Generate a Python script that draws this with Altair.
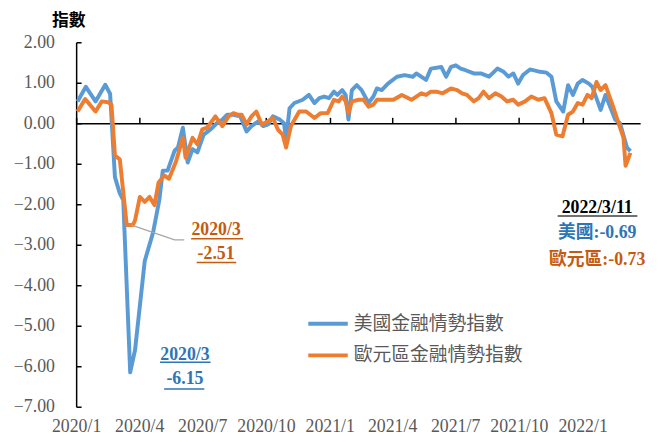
import altair as alt
import pandas as pd

# ---------------- data ----------------
us_name = "美國金融情勢指數"
eu_name = "歐元區金融情勢指數"

us_dates = [
    "2020-01-03", "2020-01-15", "2020-01-29", "2020-02-12", "2020-02-19", "2020-02-26",
    "2020-03-04", "2020-03-09", "2020-03-19", "2020-03-26", "2020-04-09", "2020-04-21",
    "2020-04-30", "2020-05-05", "2020-05-12", "2020-05-22", "2020-05-27", "2020-06-03",
    "2020-06-10", "2020-06-17", "2020-06-24", "2020-07-03", "2020-07-13", "2020-07-22",
    "2020-07-30", "2020-08-06", "2020-08-15", "2020-08-25", "2020-09-03", "2020-09-10",
    "2020-09-20", "2020-09-27", "2020-10-04", "2020-10-11", "2020-10-21", "2020-10-27",
    "2020-10-30", "2020-11-04", "2020-11-11", "2020-11-23", "2020-12-02", "2020-12-10",
    "2020-12-17", "2020-12-24", "2020-12-31", "2021-01-07", "2021-01-12", "2021-01-19",
    "2021-01-24", "2021-01-28", "2021-02-02", "2021-02-09", "2021-02-16", "2021-02-26",
    "2021-03-05", "2021-03-10", "2021-03-17", "2021-03-26", "2021-04-08", "2021-04-19",
    "2021-05-01", "2021-05-06", "2021-05-13", "2021-05-20", "2021-05-27", "2021-06-11",
    "2021-06-18", "2021-06-25", "2021-07-02", "2021-07-09", "2021-07-16", "2021-07-28",
    "2021-08-07", "2021-08-19", "2021-08-31", "2021-09-09", "2021-09-16", "2021-09-23",
    "2021-09-30", "2021-10-07", "2021-10-17", "2021-10-29", "2021-11-10", "2021-11-17",
    "2021-11-24", "2021-12-04", "2021-12-11", "2021-12-18", "2021-12-25", "2022-01-01",
    "2022-01-10", "2022-01-15", "2022-01-27", "2022-02-03", "2022-02-17", "2022-02-24",
    "2022-03-06", "2022-03-11",
]
us_values = [
    0.54, 0.90, 0.54, 0.95, 0.73, -1.33,
    -1.73, -1.90, -6.15, -5.60, -3.40, -2.70,
    -1.90, -1.17, -1.17, -0.68, -0.60, -0.11,
    -0.97, -0.64, -0.72, -0.28, -0.15, 0.00,
    0.09, 0.21, 0.21, 0.17, -0.20, -0.07,
    0.05, -0.07, -0.03, 0.17, 0.09, 0.00,
    -0.40, 0.37, 0.50, 0.58, 0.70, 0.50,
    0.62, 0.66, 0.62, 0.78, 0.70, 0.82,
    0.70, 0.09, 0.82, 0.94, 0.82, 0.50,
    0.66, 0.86, 0.82, 0.98, 1.15, 1.19,
    1.15, 1.23, 1.15, 1.07, 1.35, 1.39,
    1.15, 1.39, 1.43, 1.35, 1.31, 1.23,
    1.23, 1.15, 1.35, 1.27, 1.15, 1.23,
    0.98, 1.19, 1.33, 1.28, 1.25, 1.15,
    0.54, 0.29, 0.94, 0.70, 0.98, 1.07,
    0.98, 0.90, 0.33, 0.70, 0.09, 0.00,
    -0.60, -0.69,
]

eu_dates = [
    "2020-01-03", "2020-01-14", "2020-01-29", "2020-02-07", "2020-02-16", "2020-02-21",
    "2020-02-26", "2020-03-04", "2020-03-14", "2020-03-23", "2020-03-26", "2020-04-02",
    "2020-04-09", "2020-04-16", "2020-04-23", "2020-04-29", "2020-05-07", "2020-05-14",
    "2020-05-24", "2020-06-03", "2020-06-07", "2020-06-17", "2020-06-24", "2020-07-01",
    "2020-07-08", "2020-07-20", "2020-07-30", "2020-08-08", "2020-08-15", "2020-08-22",
    "2020-08-27", "2020-09-03", "2020-09-10", "2020-09-17", "2020-09-25", "2020-10-04",
    "2020-10-11", "2020-10-18", "2020-10-25", "2020-10-30", "2020-11-06", "2020-11-18",
    "2020-11-28", "2020-12-10", "2020-12-19", "2020-12-29", "2021-01-07", "2021-01-14",
    "2021-01-19", "2021-01-24", "2021-01-28", "2021-02-02", "2021-02-12", "2021-02-19",
    "2021-02-26", "2021-03-05", "2021-03-10", "2021-03-22", "2021-04-03", "2021-04-15",
    "2021-04-29", "2021-05-13", "2021-05-20", "2021-05-27", "2021-06-04", "2021-06-13",
    "2021-06-25", "2021-07-04", "2021-07-11", "2021-07-18", "2021-07-28", "2021-08-04",
    "2021-08-11", "2021-08-19", "2021-08-28", "2021-09-06", "2021-09-14", "2021-09-23",
    "2021-09-30", "2021-10-10", "2021-10-19", "2021-10-29", "2021-11-07", "2021-11-17",
    "2021-11-24", "2021-12-03", "2021-12-11", "2021-12-18", "2021-12-25", "2022-01-01",
    "2022-01-08", "2022-01-14", "2022-01-21", "2022-01-27", "2022-02-03", "2022-02-13",
    "2022-02-22", "2022-03-01", "2022-03-04", "2022-03-11",
]
eu_values = [
    0.29, 0.60, 0.29, 0.54, 0.52, 0.46,
    -0.80, -0.89, -2.51, -2.51, -2.40, -1.82,
    -1.94, -1.82, -2.02, -1.46, -1.29, -1.37,
    -0.95, -0.36, -0.85, -0.36, -0.52, -0.15,
    -0.11, 0.17, -0.07, 0.17, 0.25, 0.21,
    0.21, -0.03, 0.17, 0.29, -0.03, 0.05,
    0.13, -0.15, -0.28, -0.60, -0.07, 0.29,
    0.29, 0.13, 0.25, 0.25, 0.58, 0.54,
    0.66, 0.54, 0.25, 0.54, 0.58, 0.58,
    0.41, 0.46, 0.58, 0.58, 0.58, 0.70,
    0.58, 0.74, 0.70, 0.78, 0.78, 0.74,
    0.86, 0.82, 0.74, 0.70, 0.54, 0.62,
    0.78, 0.62, 0.74, 0.66, 0.54, 0.58,
    0.46, 0.54, 0.66, 0.58, 0.62, 0.25,
    -0.28, -0.32, 0.21, 0.29, 0.50, 0.46,
    0.70, 0.62, 1.02, 0.82, 0.94, 0.46,
    0.00, -0.36, -1.05, -0.73,
]

tick_labels = ["2020/1", "2020/4", "2020/7", "2020/10", "2021/1",
               "2021/4", "2021/7", "2021/10", "2022/1"]
y_ticks = [-7, -6, -5, -4, -3, -2, -1, 0, 1, 2]

# annotations (text, date, value, colour)
ann_text = ["2020/3", "-2.51", "2020/3", "-6.15", "2022/3/11", "美國:-0.69", "歐元區:-0.73"]
ann_date = ["2020-07-21", "2020-07-21", "2020-06-06", "2020-06-06",
            "2022-01-22", "2022-01-22", "2022-01-22"]
ann_value = [-2.63, -3.22, -5.73, -6.32, -2.10, -2.71, -3.37]
ann_color = ["#C55A11", "#C55A11", "#2E75B6", "#2E75B6", "#000000", "#2E75B6", "#C55A11"]

# underlines (start date, end date, value, colour)
ul_start = ["2020-06-15", "2020-06-23", "2020-05-01", "2020-05-07", "2021-11-26"]
ul_end = ["2020-08-29", "2020-08-19", "2020-07-13", "2020-07-04", "2022-03-21"]
ul_value = [-2.85, -3.44, -5.90, -6.56, -2.29]
ul_color = ["#C55A11", "#C55A11", "#2E75B6", "#2E75B6", "#404040"]

# leader line from the EU trough to its label
leader_dates = ["2020-03-20", "2020-05-22", "2020-06-05"]
leader_values = [-2.51, -2.88, -2.88]

# ---------------- tables ----------------
lines_df = pd.concat([
    pd.DataFrame({"date": us_dates, "value": us_values, "series": us_name}),
    pd.DataFrame({"date": eu_dates, "value": eu_values, "series": eu_name}),
])
ann_df = pd.DataFrame({"date": ann_date, "value": ann_value, "label": ann_text, "col": ann_color})
ul_df = pd.DataFrame({"start": ul_start, "end": ul_end, "value": ul_value, "col": ul_color})
leader_df = pd.DataFrame({"date": leader_dates, "value": leader_values})

# ---------------- scales / axes ----------------
def dt(s):
    y, m = s.split("/")
    return alt.DateTime(year=int(y), month=int(m), date=1, utc=True)

tick_values = [dt(t) for t in tick_labels]
xscale = alt.Scale(type="utc", domain=[alt.DateTime(year=2020, month=1, date=1, utc=True),
                                       alt.DateTime(year=2022, month=3, date=25, utc=True)])
yscale = alt.Scale(domain=[-7, 2], nice=False, zero=False)

SERIF = "Liberation Serif, Times New Roman, Noto Sans CJK TC"
CJK = "Noto Sans CJK TC"
GRAY = "#595959"

label_expr = "utcFormat(datum.value, '%Y') + '/' + (utcmonth(datum.value) + 1)"

x_main = alt.X("date:T", scale=xscale, title=None,
               axis=alt.Axis(values=tick_values, labelExpr=label_expr,
                             domain=False, ticks=False, tickSize=0, grid=False,
                             labelFont=SERIF, labelFontSize=18, labelColor=GRAY,
                             labelPadding=11, labelOverlap=False, labelFlush=False))
y_main = alt.Y("value:Q", scale=yscale,
               axis=alt.Axis(values=y_ticks, format=".2f", domain=False, ticks=False,
                             tickSize=0, grid=False, labelFont=SERIF, labelFontSize=18,
                             labelColor=GRAY, labelPadding=22,
                             title="指數", titleAngle=0, titleAlign="left",
                             titleBaseline="middle", titleX=-25, titleY=-22,
                             titleFont=CJK, titleFontSize=17, titleFontWeight="bold",
                             titleColor="#000000"))

color_scale = alt.Scale(domain=[us_name, eu_name], range=["#5B9BD5", "#ED7D31"])
legend = alt.Legend(orient="none", legendX=233, legendY=263, title=None,
                    symbolType="stroke", symbolSize=1600, symbolStrokeWidth=4,
                    labelFont=CJK, labelFontSize=19, labelColor=GRAY,
                    labelOffset=4, rowPadding=0, labelLimit=400)

x_none = alt.X("date:T", scale=xscale, axis=None)
y_none = alt.Y("value:Q", scale=yscale, axis=None)

# ---------------- layers ----------------
us_line = alt.Chart(lines_df).transform_filter(alt.datum.series == us_name).mark_line(
    strokeWidth=4, strokeJoin="round").encode(
    x=x_main, y=y_main,
    color=alt.Color("series:N", scale=color_scale, legend=legend))

eu_line = alt.Chart(lines_df).transform_filter(alt.datum.series == eu_name).mark_line(
    strokeWidth=4, strokeJoin="round").encode(
    x=x_none, y=y_none,
    color=alt.Color("series:N", scale=color_scale, legend=legend))

# leader line; also carries the zero-line x axis and the inward-tick y axis line
leader = alt.Chart(leader_df).mark_line(color="#A6A6A6", strokeWidth=1.3).encode(
    x=alt.X("date:T", scale=xscale, title=None,
            axis=alt.Axis(orient="top", offset=-82, values=tick_values, labels=False,
                          domain=True, domainColor="#000000", domainWidth=1.5,
                          ticks=True, tickColor="#000000", tickWidth=1.5, tickSize=6,
                          grid=False)),
    y=alt.Y("value:Q", scale=yscale, title=None,
            axis=alt.Axis(orient="right", offset=-571, values=y_ticks, labels=False,
                          domain=True, domainColor="#000000", domainWidth=1.5,
                          ticks=True, tickColor="#000000", tickWidth=1.5, tickSize=5,
                          grid=False)),
)

texts = alt.Chart(ann_df).mark_text(font=SERIF, fontSize=18, fontWeight="bold",
                                    baseline="middle", align="center").encode(
    x=x_none, y=y_none, text="label:N", color=alt.Color("col:N", scale=None))

underlines = alt.Chart(ul_df).mark_rule(strokeWidth=1.5).encode(
    x=alt.X("start:T", scale=xscale, axis=None), x2="end:T",
    y=y_none, color=alt.Color("col:N", scale=None))

chart = alt.layer(us_line, eu_line, leader, texts, underlines).resolve_axis(
    x="independent", y="independent"
).properties(
    width=571, height=369,
    autosize=alt.AutoSizeParams(type="none"),
    padding={"left": 69, "top": 32, "right": 10, "bottom": 33},
).configure_view(stroke=None)

chart.save("out.html", embed_options={"renderer": "svg", "actions": False})
